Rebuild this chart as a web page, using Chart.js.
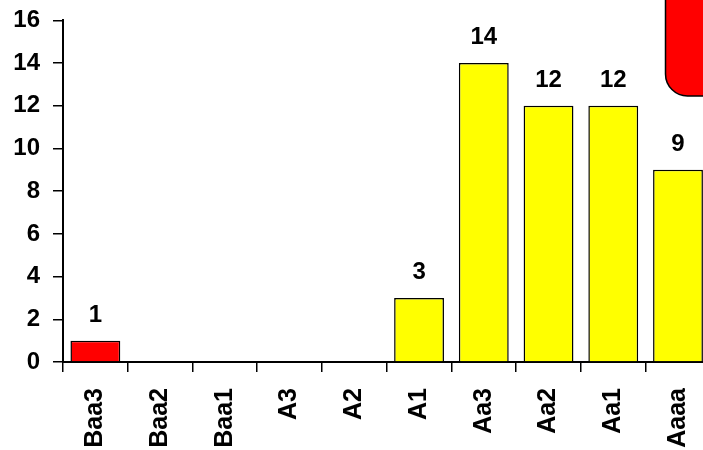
<!DOCTYPE html>
<html>
<head>
<meta charset="utf-8">
<script src="https://cdn.jsdelivr.net/npm/chart.js@4.4.0/dist/chart.umd.min.js"></script>
<style>
  html, body { margin: 0; padding: 0; background: #fff; overflow: hidden; width: 703px; height: 450px; }
  #wrap { position: relative; width: 724px; height: 457px; margin-top: -7px; }
</style>
</head>
<body>
<div id="wrap"><canvas id="c" width="724" height="457"></canvas></div>
<script>
const categories = ["Baa3", "Baa2", "Baa1", "A3", "A2", "A1", "Aa3", "Aa2", "Aa1", "Aaaa"];
const counts = [1, 0, 0, 0, 0, 3, 14, 12, 12, 9];
const barColors = ["#FF0000", "#FFFF00", "#FFFF00", "#FFFF00", "#FFFF00", "#FFFF00", "#FFFF00", "#FFFF00", "#FFFF00", "#FFFF00"];
const yTicks = [0, 2, 4, 6, 8, 10, 12, 14, 16];

const FONT = "Arial, 'Liberation Sans', sans-serif";

const valueLabels = {
  id: 'valueLabels',
  afterDatasetsDraw(chart) {
    const ctx = chart.ctx;
    const meta = chart.getDatasetMeta(0);
    ctx.save();
    ctx.font = "bold 24px " + FONT;
    ctx.fillStyle = "#000";
    ctx.textAlign = "center";
    ctx.textBaseline = "alphabetic";
    meta.data.forEach((bar, i) => {
      const v = chart.data.datasets[0].data[i];
      if (v > 0) ctx.fillText(String(v), bar.x, bar.y - 19);
    });
    ctx.restore();
  }
};

const cornerBox = {
  id: 'cornerBox',
  afterDraw(chart) {
    const ctx = chart.ctx;
    ctx.save();
    ctx.beginPath();
    ctx.roundRect(665.5, -60, 80, 163, 22);
    ctx.fillStyle = "#FF0000";
    ctx.fill();
    ctx.lineWidth = 1.5;
    ctx.strokeStyle = "#000";
    ctx.stroke();
    ctx.restore();
  }
};

new Chart(document.getElementById('c'), {
  type: 'bar',
  data: {
    labels: categories,
    datasets: [{
      data: counts,
      backgroundColor: barColors,
      borderColor: "#000",
      borderWidth: 1.5,
      borderSkipped: 'bottom',
      barPercentage: 0.77,
      categoryPercentage: 1.0
    }]
  },
  options: {
    responsive: false,
    animation: false,
    layout: { padding: { top: 1, left: 0, right: 0, bottom: 0 } },
    plugins: { legend: { display: false }, tooltip: { enabled: false } },
    scales: {
      x: {
        offset: true,
        grid: { display: true, drawOnChartArea: false, drawTicks: true, tickLength: 10, color: "#000", lineWidth: 1.5, offset: true },
        border: { display: true, color: "#000", width: 2 },
        ticks: {
          minRotation: 90, maxRotation: 90, autoSkip: false,
          color: "#000", padding: 16,
          font: { family: FONT, size: 25, weight: 'bold' }
        },
        afterFit(scale) { scale.height = 88; }
      },
      y: {
        min: 0, max: 16,
        afterBuildTicks(scale) { scale.ticks = yTicks.map(v => ({ value: v })); },
        grid: { display: true, drawOnChartArea: false, drawTicks: true, tickLength: 10, color: "#000", lineWidth: 1.5 },
        border: { display: true, color: "#000", width: 2 },
        ticks: {
          color: "#000", padding: 13,
          font: { family: FONT, size: 24, weight: 'bold' }
        },
        afterFit(scale) { scale.width = 63; }
      }
    }
  },
  plugins: [valueLabels, cornerBox]
});
</script>
</body>
</html>
